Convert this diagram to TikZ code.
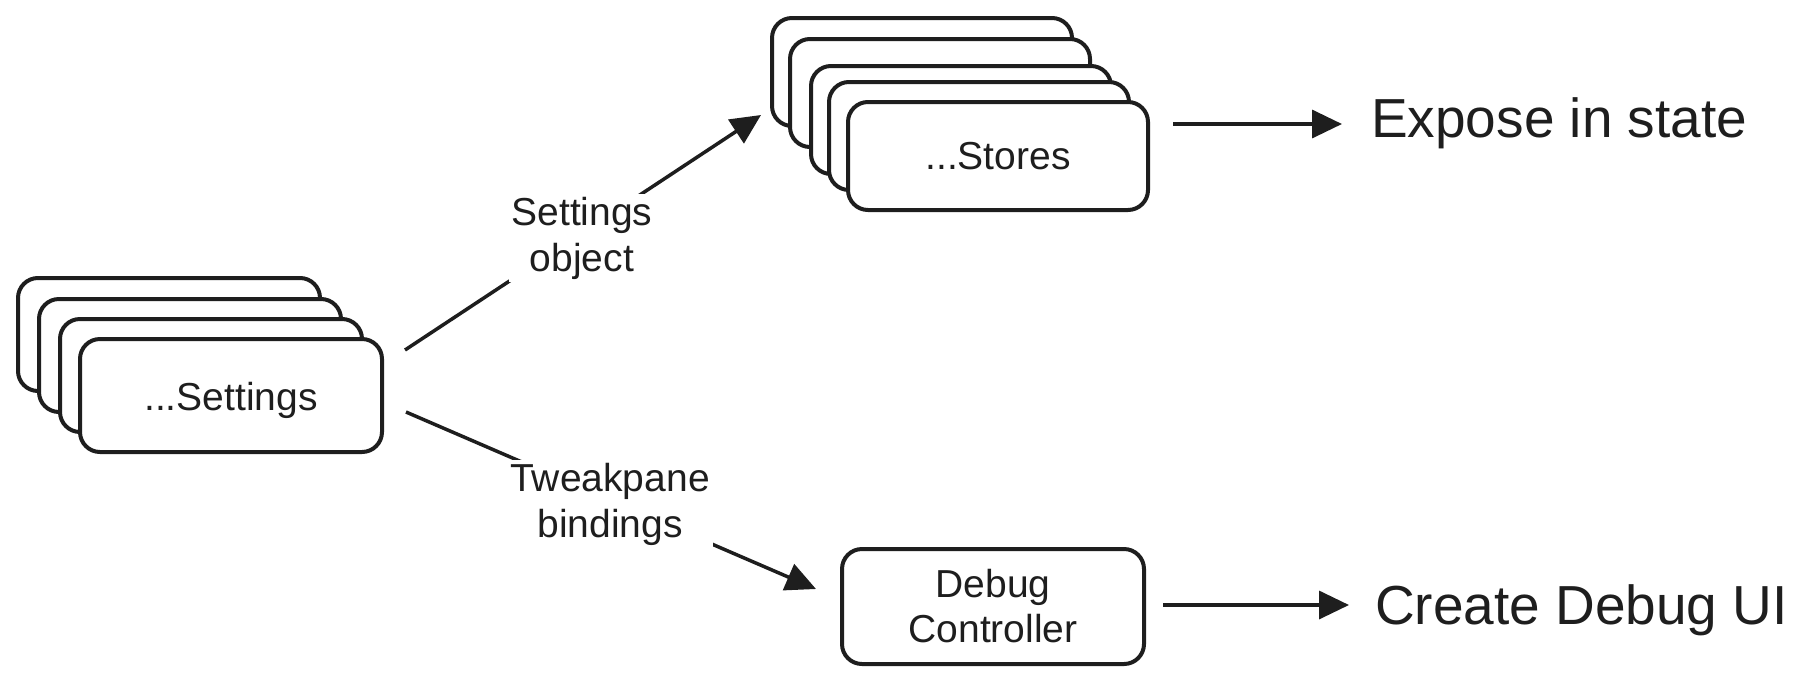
\documentclass[tikz,border=0pt]{standalone}
\usepackage{fontspec}
\setmainfont{Liberation Sans}
\usetikzlibrary{arrows.meta}
\definecolor{ink}{RGB}{30,30,30}
\tikzset{
  card/.style={draw=ink, line width=4pt, rounded corners=20pt, fill=white, inner sep=0pt},
  setcard/.style={card, minimum width=302pt, minimum height=113pt},
  storecard/.style={card, minimum width=300pt, minimum height=108pt},
  cardtext/.style={text=ink, font=\fontsize{39}{45}\selectfont, align=center},
  lbl/.style={fill=white, inner sep=3pt, text=ink, font=\fontsize{39}{46}\selectfont, align=center},
  bigtext/.style={text=ink, inner sep=0pt, font=\fontsize{55}{64}\selectfont},
  arr/.style={draw=ink, line width=3.5pt, -{Triangle[length=30pt,width=28pt]}}
}
\begin{document}
\begin{tikzpicture}[x=1pt, y=-1pt]
\useasboundingbox (0,0) rectangle (1814,681);
% Settings stack
\node[setcard] (s1) at (169,334.5) {};
\node[setcard] (s2) at (190,355.5) {};
\node[setcard] (s3) at (211,375.5) {};
\node[setcard, cardtext, text height=29pt, text depth=0pt] (s4) at (231,395.5) {...Settings};
% Stores stack
\node[storecard] (t1) at (922,72) {};
\node[storecard] (t2) at (940,93) {};
\node[storecard] (t3) at (961,120) {};
\node[storecard] (t4) at (979,136) {};
\node[storecard, cardtext] (t5) at (998,156) {...Stores};
% Debug controller
\node[card, cardtext, minimum width=302pt, minimum height=115pt] (dbg) at (993,606.5) {Debug\\Controller};
% Outputs
\node[bigtext, anchor=base west] (expose) at (1371,137) {Expose in state};
\node[bigtext, anchor=base west] (create) at (1375,624) {Create Debug UI};
% connector end points
\coordinate (c1s) at (405,350);
\coordinate (c1e) at (761,115);
\coordinate (c2s) at (406,412);
\coordinate (c2e) at (816,589);
\coordinate (c3s) at (1173,124);
\coordinate (c3e) at (1342,124);
\coordinate (c4s) at (1163,605);
\coordinate (c4e) at (1349,605);
% connectors
\draw[arr] (c1s) -- (c1e);
\draw[arr] (c2s) -- (c2e);
\draw[arr] (c3s) -- (c3e);
\draw[arr] (c4s) -- (c4e);
% labels
\node[lbl] (lab1) at (582,238) {Settings\\object};
\node[lbl] (lab2) at (610,504) {Tweakpane\\bindings};
\end{tikzpicture}
\end{document}
